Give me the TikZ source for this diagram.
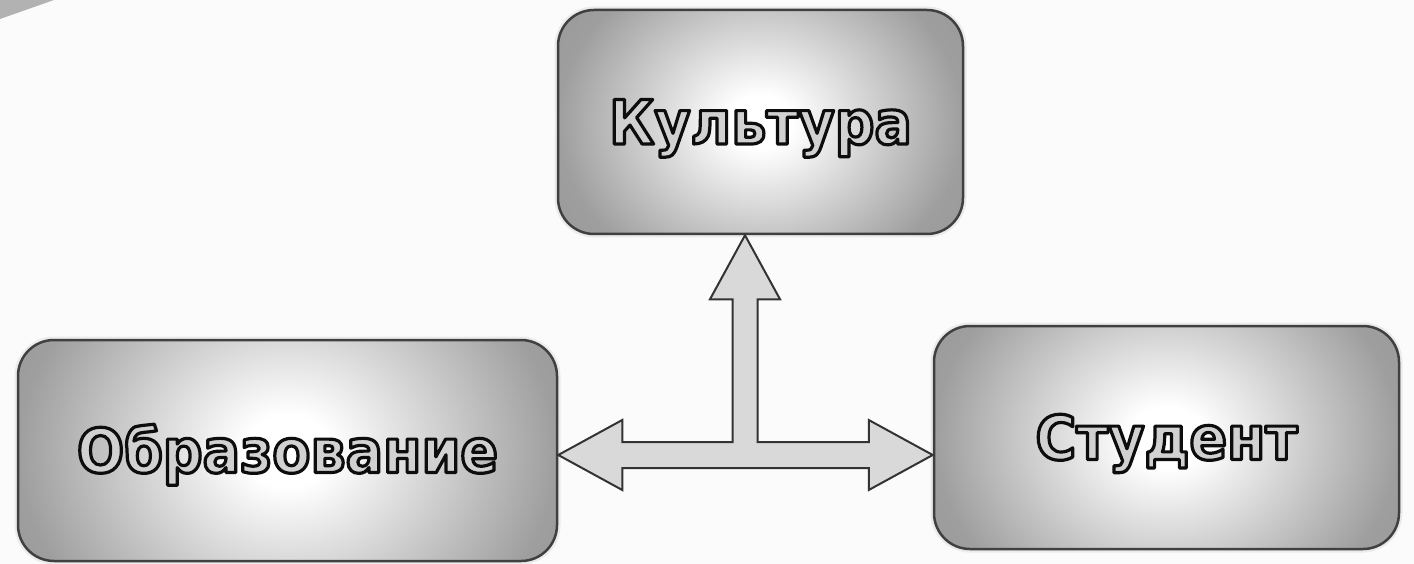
\documentclass[tikz,border=0pt]{standalone}
\usepackage{fontspec}
\setmainfont{DejaVu Sans}
\newfontfamily\boxfont[FakeStretch=0.91]{DejaVu Sans}
\usetikzlibrary{calc}
\pgfdeclareradialshading{boxshade}{\pgfpoint{0bp}{0bp}}{color(0bp)=(white); color(4bp)=(white); color(25bp)=(black!38); color(40bp)=(black!43)}
\newcommand{\outltext}[1]{\special{pdf:literal direct 2 Tr 3.2 w 0.05 0.05 0.05 RG 1 j}#1\special{pdf:literal direct 0 Tr}}
\tikzset{
  box/.style 2 args={draw=black!75, line width=2.5pt, rounded corners=36pt,
    fill=black!40, minimum width=#1pt, minimum height=#2pt, inner sep=0pt,
    preaction={draw=black!8, line width=7pt},
    text=black!18, text height=44pt, text depth=0pt,
    font=\boxfont\bfseries\fontsize{61}{61}\selectfont,
    path picture={\shade[shading=boxshade]
      ($(path picture bounding box.center)+({-#1/2},{-0.42*#1})$) rectangle
      ($(path picture bounding box.center)+({#1/2},{0.42*#1})$);}},
  tarrow/.style={draw=black!80, line width=2pt, fill=black!15, line join=miter}
}
\begin{document}
\begin{tikzpicture}[x=1pt,y=-1pt]
\useasboundingbox (0,0) rectangle (1414,564);
\fill[black!1.5] (0,0) rectangle (1414,564);
\fill[black!30] (0,0) -- (54,0) -- (0,19) -- cycle;

\node[box={405}{224}] (kult) at (760.5,122) {\outltext{Культура}};
\node[box={539}{221}] (obr) at (287.5,450.5) {\outltext{Образование}};
\node[box={465}{223}] (stud) at (1166.5,437.5) {\outltext{Студент}};

\coordinate (j) at (745,455);
\coordinate (L) at (obr.east |- j);
\coordinate (R) at (stud.west |- j);
\coordinate (U) at (kult.south -| j);
\draw[tarrow] (L)
  -- ($(L)+(64,-35)$) -- ($(L)+(64,-13)$)
  -- ($(j)+(-12.5,-13)$) -- ($(U)+(-12.5,64)$) -- ($(U)+(-35,64)$)
  -- (U)
  -- ($(U)+(35,64)$) -- ($(U)+(12.5,64)$) -- ($(j)+(12.5,-13)$)
  -- ($(R)+(-64,-13)$) -- ($(R)+(-64,-35)$)
  -- (R)
  -- ($(R)+(-64,35)$) -- ($(R)+(-64,13)$)
  -- ($(L)+(64,13)$) -- ($(L)+(64,35)$) -- cycle;
\end{tikzpicture}
\end{document}
